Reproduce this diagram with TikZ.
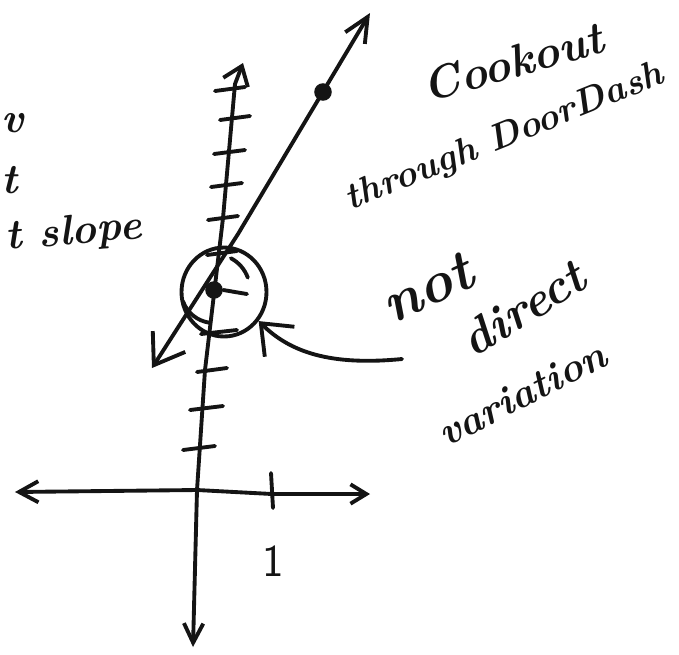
\documentclass[tikz,border=0pt]{standalone}
\usepackage{xcolor}
\usepackage{tikz}
\usetikzlibrary{arrows.meta, shapes.geometric}
\definecolor{pen}{RGB}{20,20,20}
\tikzset{
  ink/.style={line width=2.2pt, line cap=round, line join=round, color=pen},
  xaxis/.style={ink, {Straight Barb[length=11pt, width=12pt]}-{Straight Barb[length=9pt, width=11pt]}},
  yaxis/.style={ink, {Straight Barb[length=11pt, width=11pt]}-{Straight Barb[length=10pt, width=15pt]}},
  slantline/.style={ink, {Straight Barb[length=16pt, width=22pt]}-{Straight Barb[length=14pt, width=13pt]}},
  pointer/.style={ink, -{Straight Barb[length=15pt, width=24pt]}},
  ring/.style={ellipse, draw=pen, line width=2.2pt, minimum width=1.7cm, minimum height=1.78cm, inner sep=0pt},
  dot/.style={circle, fill=pen, minimum size=10pt, inner sep=0pt},
  note/.style={inner sep=0pt, color=pen, font=\fontsize{24}{28}\selectfont\bfseries\itshape},
  bignote/.style={inner sep=0pt, color=pen, font=\fontsize{33}{37}\selectfont\bfseries\itshape},
  midnote/.style={inner sep=0pt, color=pen, font=\fontsize{28}{32}\selectfont\bfseries\itshape}
}

\begin{document}
\begin{tikzpicture}[x=0.02cm, y=-0.02cm]
  \useasboundingbox (0,0) rectangle (679,654);

  % Axes
  \coordinate (o) at (197,490);
  \coordinate (xl) at (15,492);
  \coordinate (x1) at (272,494);
  \coordinate (xr) at (370,494);
  \coordinate (yb) at (193,647);
  \coordinate (yt) at (243,63);
  \draw[xaxis] (xl) -- (o) -- (x1) -- (xr);
  \draw[yaxis] (yb) -- (o) -- (205,370) -- (223,218) -- (235,84) -- (yt);

  % Tick marks
  \foreach \y/\a/\b in {89/215/245, 118/220/250, 152/214/245, 185/211/242, 218/208/238,
                        253/207/237, 332/201/237, 370/197/227, 408/190/223, 448/183/215}
    \draw[ink] (\a,\y+2) -- (\b,\y-2);
  \draw[ink] (271,473) -- (273,508);
  \node[note, font=\fontsize{26}{30}\selectfont\sffamily] (one) at (273,561) {1};

  % Line with two points
  \coordinate (lb) at (152,368);
  \coordinate (lt) at (370,13);
  \draw[slantline] (lb) -- (238,234) -- (lt);
  \node[dot] (pt) at (323,92) {};
  \node[dot] (yint) at (214,290) {};

  % Circled y-intercept
  \node[ring] (circ) at (224,292) {};
  \draw[ink] (yint) ++(-20:36) arc[start angle=-20, end angle=-62, radius=36];
  \draw[ink] (yint) ++(-200:33) arc[start angle=-200, end angle=-262, radius=33];
  \draw[ink] (yint.east) -- (247,294);

  % Curved pointer
  \coordinate (curl) at (402,359);
  \draw[pointer] (curl) .. controls (330,366) and (290,352) .. (circ.-40);

  % Notes
  \node[note, font=\fontsize{26}{30}\selectfont\bfseries\itshape, rotate=16] (cook) at (513,62) {Cookout};
  \node[note, font=\fontsize{21}{25}\selectfont\bfseries\itshape, rotate=22] (door) at (505,138) {through DoorDash};
  \node[bignote, rotate=25] (nota) at (427,288) {not};
  \node[midnote, rotate=32] (direct) at (523,308) {direct};
  \node[note, font=\fontsize{23}{27}\selectfont\bfseries\itshape, rotate=27] (vari) at (522,394) {variation};
  \node[note, anchor=base west] (w1) at (1,132) {v};
  \node[note, anchor=base west] (w2) at (1,193) {t};
  \node[note, anchor=base west, rotate=5] (w3) at (6,250) {t slope};
\end{tikzpicture}
\end{document}
